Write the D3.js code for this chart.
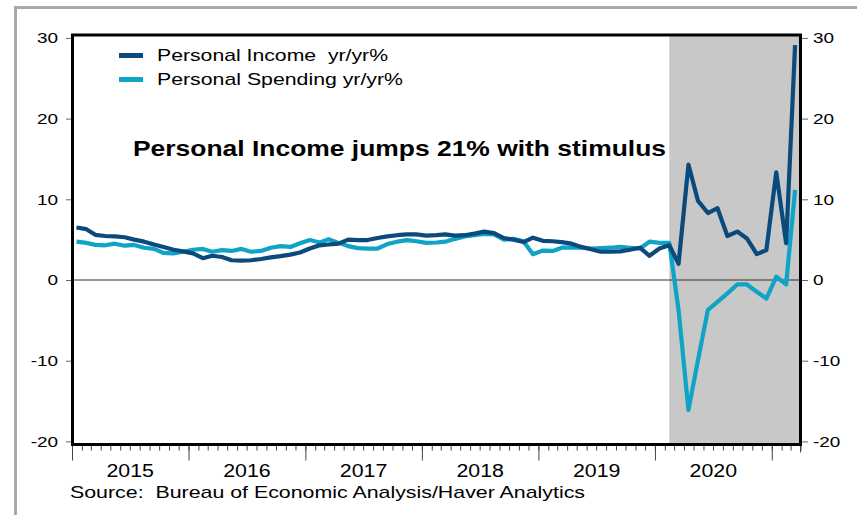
<!DOCTYPE html>
<html>
<head>
<meta charset="utf-8">
<script src="https://cdn.jsdelivr.net/npm/d3@7"></script>
<style>
  html, body { margin: 0; padding: 0; background: #fff; }
  svg { display: block; }
  text { font-family: "Liberation Sans", Arial, sans-serif; fill: #000; }
</style>
</head>
<body>
<svg id="chart" width="857" height="515"></svg>
<script>
// ---- data ----
const startMonth = "2015-01";
const seriesNames = ["Personal Income  yr/yr%", "Personal Spending yr/yr%"];
const personalIncome = [
  6.5, 6.3, 5.6, 5.45, 5.4, 5.3, 5.0, 4.75, 4.4, 4.1, 3.75, 3.55,
  3.3, 2.7, 3.0, 2.85, 2.45, 2.4, 2.45, 2.6, 2.8, 2.95, 3.15, 3.4,
  3.9, 4.3, 4.4, 4.5, 5.0, 4.95, 4.95, 5.2, 5.4, 5.55, 5.65, 5.65,
  5.5, 5.55, 5.65, 5.5, 5.55, 5.75, 6.0, 5.8, 5.2, 5.0, 4.7, 5.25,
  4.85, 4.8, 4.7, 4.5, 4.1, 3.8, 3.5, 3.5, 3.55, 3.75, 4.0, 3.0,
  3.9, 4.3, 2.0, 14.3, 9.8, 8.3, 8.9, 5.45, 6.0, 5.15, 3.2, 3.7,
  13.35, 4.55, 29.1
];
const personalSpending = [
  4.75, 4.6, 4.35, 4.3, 4.5, 4.25, 4.35, 4.0, 3.85, 3.35, 3.3, 3.5,
  3.75, 3.85, 3.5, 3.7, 3.6, 3.85, 3.5, 3.6, 4.0, 4.2, 4.1, 4.55,
  4.95, 4.65, 5.05, 4.6, 4.2, 3.95, 3.9, 3.9, 4.45, 4.75, 4.95, 4.8,
  4.6, 4.65, 4.75, 5.1, 5.4, 5.55, 5.7, 5.65, 5.0, 5.1, 4.8, 3.2,
  3.65, 3.6, 4.0, 4.05, 4.0, 3.9, 3.95, 4.0, 4.1, 4.0, 3.9, 4.75,
  4.6, 4.6, -3.7, -16.1, -9.9, -3.7, -2.7, -1.65, -0.55, -0.55, -1.45, -2.3,
  0.4, -0.55, 11.15
];
const yTicks = [-20, -10, 0, 10, 20, 30];
const yearLabels = ["2015", "2016", "2017", "2018", "2019", "2020"];
const recessionStart = "2020-02-15";
const axisStart = "2015-01-01";
const axisEnd = "2021-04-01";
const annotation = "Personal Income jumps 21% with stimulus";
const sourceNote = "Source:  Bureau of Economic Analysis/Haver Analytics";
const colors = ["#0b4a7c", "#0fa3c6"];

// ---- layout ----
const svg = d3.select("#chart");
const L = 72.5, R = 800.5, T = 35, B = 444.5;
const parse = d3.timeParse("%Y-%m-%d");
const x = d3.scaleTime().domain([parse(axisStart), parse(axisEnd)]).range([72, 800.5]);
const y = d3.scaleLinear().domain([-20, 30]).range([441.4, 37.9]);
const STRETCH = 1.22;

const start = d3.timeParse("%Y-%m")(startMonth);
const dates = personalIncome.map((_, i) => d3.timeDay.offset(d3.timeMonth.offset(start, i), 14));

// outer frame
svg.append("rect").attr("x", 15.5).attr("y", 7.5).attr("width", 900).attr("height", 600)
  .attr("fill", "none").attr("stroke", "#a9a9a9").attr("stroke-width", 3);

// recession shading
svg.append("rect")
  .attr("x", x(parse(recessionStart))).attr("y", T)
  .attr("width", R - x(parse(recessionStart))).attr("height", B - T)
  .attr("fill", "#c8c8c8");

// zero line
svg.append("line").attr("x1", L).attr("x2", R).attr("y1", y(0)).attr("y2", y(0))
  .attr("stroke", "#333").attr("stroke-width", 1);

function stretch(sel, f) {
  sel.each(function () {
    const w = this.getComputedTextLength();
    d3.select(this).attr("textLength", w * f).attr("lengthAdjust", "spacingAndGlyphs");
  });
}
const fmt = d => String(d);

// left axis
const gL = svg.append("g").attr("transform", `translate(${71},0)`)
  .call(d3.axisLeft(y).tickValues(yTicks).tickSize(5).tickPadding(8).tickFormat(fmt));
gL.select(".domain").remove();
gL.selectAll(".tick line").attr("stroke", "#666");
gL.selectAll(".tick text").attr("font-size", 15.5).attr("fill", "#000")
  .style("font-family", '"Liberation Sans", Arial, sans-serif');
stretch(gL.selectAll(".tick text"), STRETCH);

// right axis
const gR = svg.append("g").attr("transform", `translate(${802},0)`)
  .call(d3.axisRight(y).tickValues(yTicks).tickSize(6).tickPadding(5).tickFormat(fmt));
gR.select(".domain").remove();
gR.selectAll(".tick line").attr("stroke", "#666");
gR.selectAll(".tick text").attr("font-size", 15.5).attr("fill", "#000")
  .style("font-family", '"Liberation Sans", Arial, sans-serif');
stretch(gR.selectAll(".tick text"), STRETCH);

// bottom axis: minor monthly ticks, major yearly
const gMinor = svg.append("g").attr("transform", `translate(0,${B})`)
  .call(d3.axisBottom(x).ticks(d3.timeMonth.every(1)).tickSize(6).tickFormat(""));
gMinor.select(".domain").remove();
gMinor.selectAll(".tick line").attr("stroke", "#444");
const gMajor = svg.append("g").attr("transform", `translate(0,${B})`)
  .call(d3.axisBottom(x).ticks(d3.timeYear.every(1)).tickSize(16).tickFormat(""));
gMajor.select(".domain").remove();
gMajor.selectAll(".tick line").attr("stroke", "#444");
svg.append("line").attr("x1", R).attr("x2", R).attr("y1", B).attr("y2", B + 8).attr("stroke", "#444");

// year labels centred within each year
const yl = svg.append("g").selectAll("text").data(yearLabels).join("text")
  .attr("x", d => (x(parse(d + "-01-01")) + x(parse((+d + 1) + "-01-01"))) / 2)
  .attr("y", 477).attr("text-anchor", "middle").attr("font-size", 17.5).text(d => d);
stretch(yl, STRETCH);

// lines
const line = d3.line().x((d, i) => x(dates[i])).y(d => y(d));
[personalSpending, personalIncome].forEach((s, k) => {
  svg.append("path").datum(s).attr("d", line)
    .attr("fill", "none").attr("stroke", k === 0 ? colors[1] : colors[0])
    .attr("stroke-width", 4.2).attr("stroke-linejoin", "round").attr("stroke-linecap", "butt");
});

// plot frame
svg.append("rect").attr("x", L).attr("y", T).attr("width", R - L).attr("height", B - T)
  .attr("fill", "none").attr("stroke", "#000").attr("stroke-width", 3);

// legend
const legendY = [55.5, 79.5];
const legendW = [231, 246];
seriesNames.forEach((n, i) => {
  svg.append("line").attr("x1", 119).attr("x2", 143).attr("y1", legendY[i]).attr("y2", legendY[i])
    .attr("stroke", colors[i]).attr("stroke-width", 5);
  svg.append("text").attr("x", 157).attr("y", legendY[i] + 5.5).attr("font-size", 17)
    .style("white-space", "pre")
    .attr("textLength", legendW[i]).attr("lengthAdjust", "spacingAndGlyphs").text(n);
});

// annotation
svg.append("text").attr("x", 133).attr("y", 156).attr("font-size", 22).attr("font-weight", "bold")
  .attr("textLength", 533).attr("lengthAdjust", "spacingAndGlyphs").text(annotation);

// source
svg.append("text").attr("x", 70).attr("y", 498).attr("font-size", 17)
  .style("white-space", "pre")
  .attr("textLength", 515).attr("lengthAdjust", "spacingAndGlyphs").text(sourceNote);
</script>
</body>
</html>
